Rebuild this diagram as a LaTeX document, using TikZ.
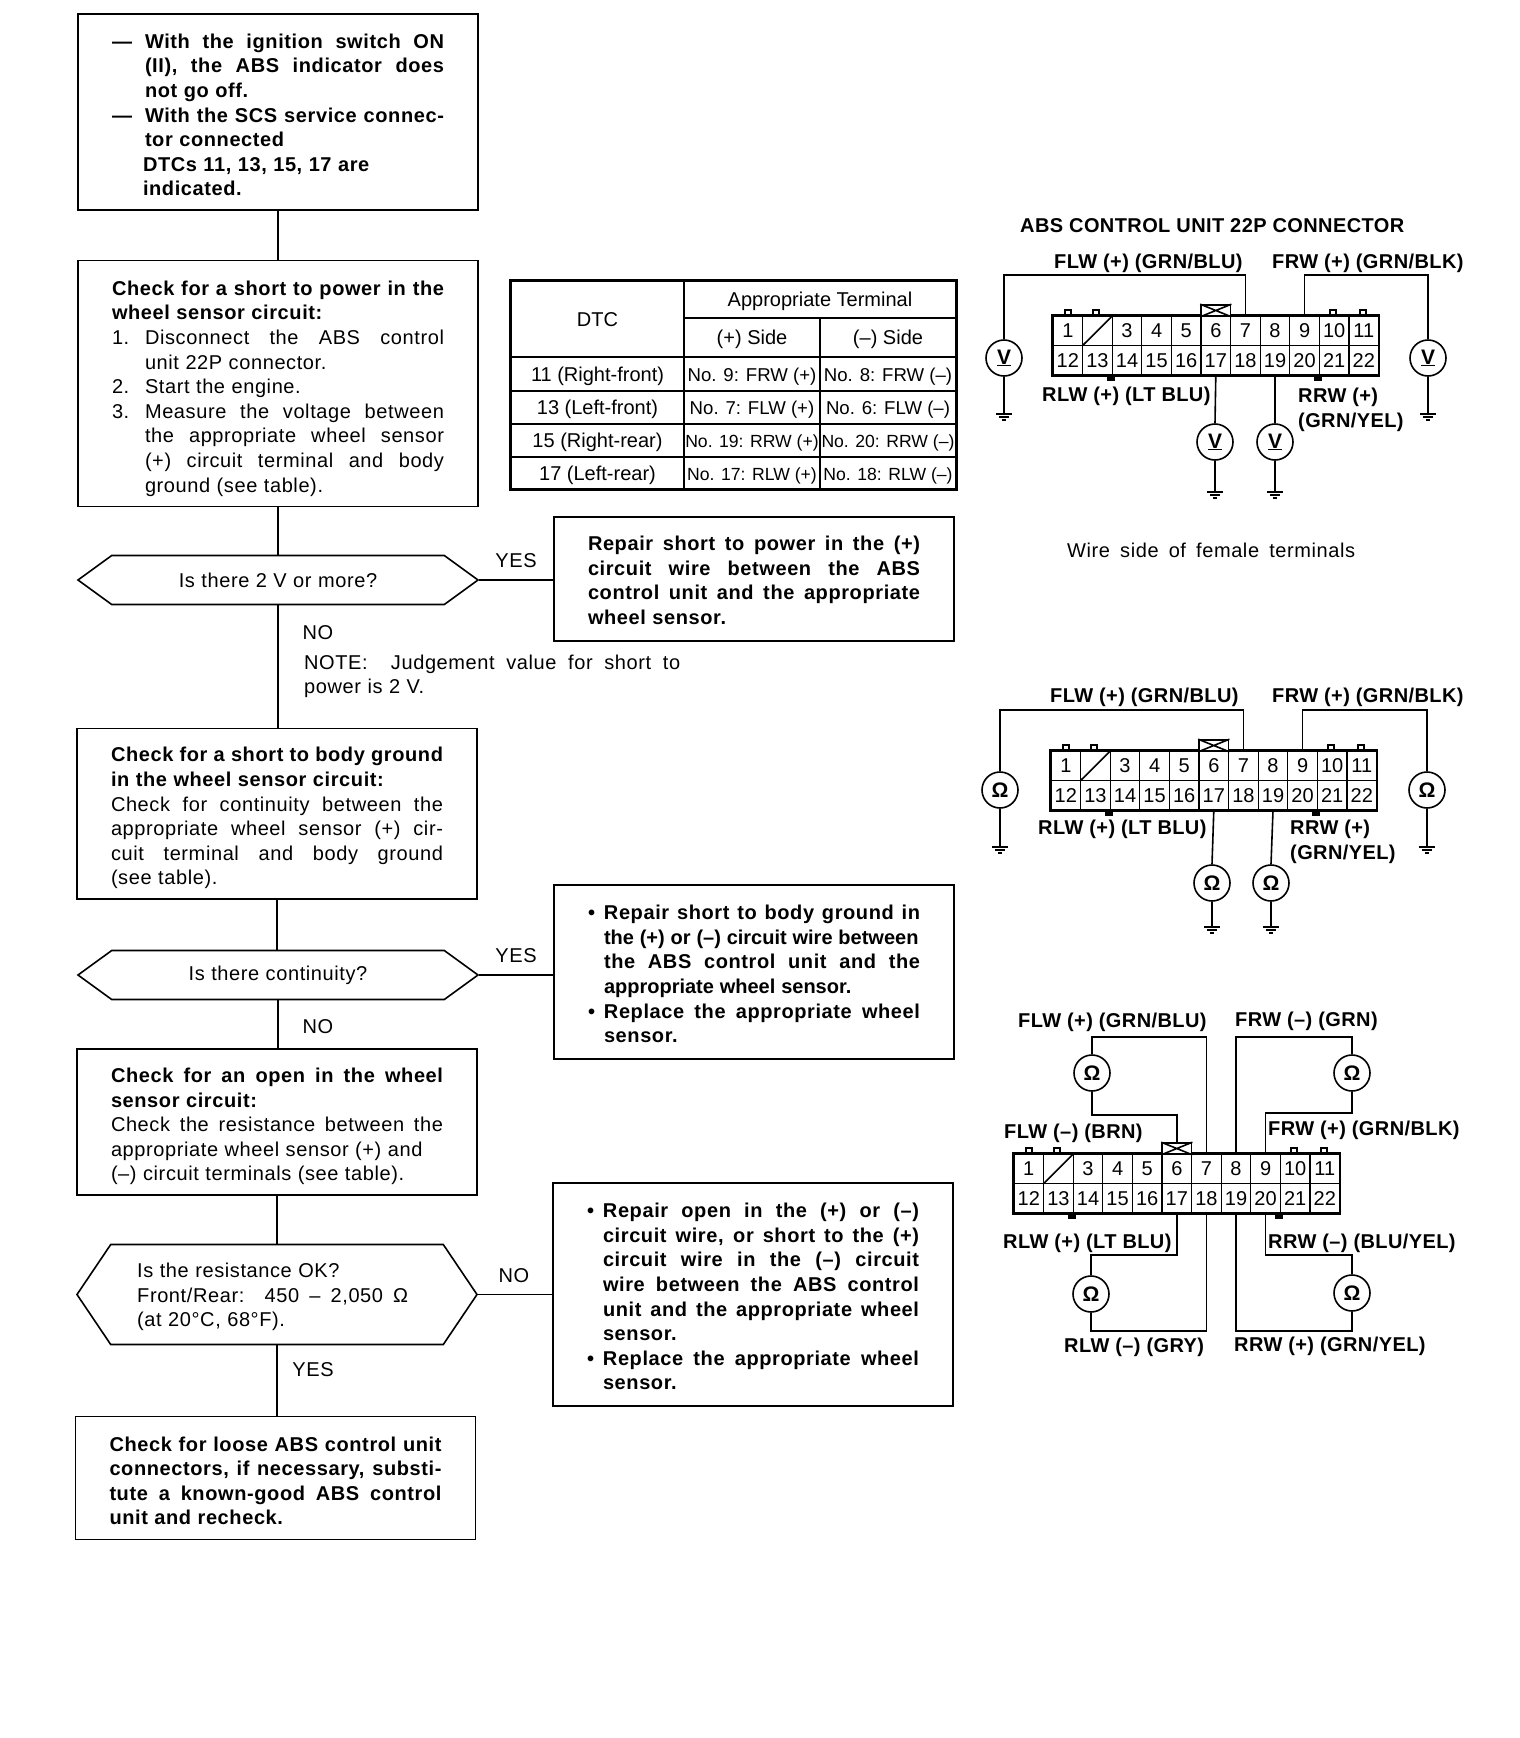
\documentclass[tikz,border=0pt]{standalone}
\usepackage{fontspec}
\setmainfont[WordSpace=1.05,LetterSpace=3]{Liberation Sans}
\newfontfamily\plainfont{Liberation Sans}
\newfontfamily\lblfamily[LetterSpace=2]{Liberation Sans Bold}
\usetikzlibrary{arrows.meta,positioning,shapes.symbols,calc}
\newcommand{\flowfont}{\fontsize{20}{24.6}\selectfont\sloppy}
\newcommand{\lblfont}{\lblfamily\fontsize{20}{25}\selectfont}
\newcommand{\hangitem}[2]{\par\hangindent=#1\hangafter=1\noindent\makebox[#1][l]{#2}}
\newcommand{\toppad}[1]{\rule{0pt}{#1}}
\newcommand{\botpad}[1]{\par\nointerlineskip\vbox to #1{}}
\newcommand{\tightline}[1]{\mbox{\addfontfeature{LetterSpace=0}#1}}
\tikzset{
  conn/.pic={
    \foreach \n in {1,2,...,11} \node[pincell] (\n) at ({14.8+29.6*(\n-1)},14.75) {\ifnum\n=2 \else\n\fi};
    \foreach \n in {12,13,...,22} \node[pincell] (\n) at ({14.8+29.6*(\n-12)},44.25) {\n};
    \draw[wire] (2.south west) -- (2.north east);
    \draw[line width=2.2pt] (1.north west) rectangle (22.south east);
    \foreach \t in {15,43,280,310} \draw[wire] (\t-3,0) -- (\t-3,-6) -- (\t+3,-6) -- (\t+3,0);
    \foreach \t in {58,265} \draw[wire,fill=black] (\t-3,59) rectangle (\t+3,64);
    \node[xbox] (x) at (162.8,-5.5) {};
    \draw[wire] (x.north west) -- (x.south east) (x.north east) -- (x.south west);
  },
  gnd/.pic={
    \draw[wire] (-8,0) -- (8,0) (-5,3) -- (5,3) (-2,6) -- (2,6);
  }
}
\begin{document}
\begin{tikzpicture}[x=1pt, y=-1pt,
  wire/.style={line width=1.6pt},
  flowbox/.style={draw, line width=1.6pt, text width=332pt, inner xsep=34pt, inner ysep=0pt, align=justify, font=\flowfont},
  quest/.style={draw, line width=1.6pt, shape=signal, signal to=east and west, minimum width=400pt, inner sep=0pt, font=\flowfont},
  lbl/.style={inner sep=0pt, anchor=west, font=\lblfont},
  tag/.style={inner sep=0pt, font=\fontsize{20}{24.6}\selectfont},
  pincell/.style={draw, line width=1.2pt, minimum width=29.6pt, minimum height=29.5pt, inner sep=0pt, font=\plainfont\fontsize{20}{24}\selectfont},
  xbox/.style={draw, line width=1.6pt, fill=white, minimum width=29.6pt, minimum height=11pt, inner sep=0pt},
  meter/.style={draw, line width=1.6pt, circle, minimum size=36pt, inner sep=0pt, font=\plainfont\bfseries\fontsize{21}{24}\selectfont},
  tcell/.style={draw, line width=1.2pt, inner sep=0pt, text height=14.2pt, text depth=0pt, font=\plainfont\fontsize{20}{24}\selectfont}
]
  \useasboundingbox (0,0) rectangle (1520,1738);

  %% Flow chart, left column
  \node[flowbox, minimum height=196pt] (start) at (278,112) {\bfseries
    \hangitem{33pt}{---}With the ignition switch ON\linebreak (II), the ABS indicator does\linebreak not go off.
    \hangitem{33pt}{---}With the SCS service connec-\linebreak tor connected
    \hangitem{31pt}{}DTCs 11, 13, 15, 17 are\newline indicated.\botpad{4.4pt}};
  \node[flowbox, minimum height=246pt] (short) at (278,383.5) {\toppad{24.5pt}\textbf{Check for a short to power in the\linebreak wheel sensor circuit:}
    \hangitem{33pt}{1.}Disconnect the ABS control\linebreak unit 22P connector.
    \hangitem{33pt}{2.}Start the engine.
    \hangitem{33pt}{3.}Measure the voltage between\linebreak the appropriate wheel sensor\linebreak (+) circuit terminal and body\linebreak ground (see table).\par};
  \node[quest, minimum height=49pt, signal pointer angle=72] (volt) at (278,580) {Is there 2 V or more?};
  \node[flowbox, minimum height=170.7pt] (body) at (277,813.7) {\toppad{23.5pt}\textbf{Check for a short to body ground\newline in the wheel sensor circuit:}\par
    Check for continuity between the\linebreak appropriate wheel sensor (+) cir-\linebreak cuit terminal and body ground\linebreak (see table).\par};
  \node[quest, minimum height=49pt, signal pointer angle=72] (cont) at (278,975) {\raisebox{-2pt}{Is there continuity?}};
  \node[flowbox, minimum height=146.3pt] (open) at (277,1122) {\toppad{23.5pt}\textbf{Check for an open in the wheel\linebreak sensor circuit:}\par
    Check the resistance between the\linebreak appropriate wheel sensor (+) and\newline (--) circuit terminals (see table).\par};
  \node[quest, minimum height=100pt, signal pointer angle=112] (ohm) at (277,1294.5) {};
  \node[tag, anchor=west, align=left] (ohmtext) at (137,1297) {Is the resistance OK?\\\makebox[271pt][s]{Front/Rear:\ \ 450 -- 2,050 Ω}\\(at 20°C, 68°F).};
  \node[flowbox, minimum height=123pt] (loose) at (275.5,1478) {\toppad{20pt}\bfseries Check for loose ABS control unit\linebreak connectors, if necessary, substi-\linebreak tute a known-good ABS control\linebreak unit and recheck.\par};

  %% Repair boxes
  \node[flowbox, minimum height=124pt] (fixa) at (754,578.8) {\toppad{17.5pt}\bfseries Repair short to power in the (+)\linebreak circuit wire between the ABS\linebreak control unit and the appropriate\linebreak wheel sensor.\par};
  \node[flowbox, minimum height=174pt] (fixb) at (754,971.7) {\bfseries
    \hangitem{16pt}{•}Repair short to body ground in\linebreak \tightline{the (+) or (--) circuit wire between}\linebreak the ABS control unit and the\linebreak \tightline{appropriate wheel sensor.}
    \hangitem{16pt}{•}Replace the appropriate wheel\linebreak sensor.\botpad{5.6pt}};
  \node[flowbox, minimum height=222.8pt] (fixc) at (753,1294.4) {\bfseries
    \hangitem{16pt}{•}Repair open in the (+) or (--)\linebreak circuit wire, or short to the (+)\linebreak circuit wire in the (--) circuit\linebreak wire between the ABS control\linebreak unit and the appropriate wheel\linebreak sensor.
    \hangitem{16pt}{•}Replace the appropriate wheel\linebreak sensor.\botpad{5.5pt}};

  %% Flow connectors and their tags
  \draw[wire] (start.south) -- (start.south |- short.north);
  \draw[wire] (short.south) -- (short.south |- volt.north);
  \draw[wire] (volt.south) -- (volt.south |- body.north);
  \draw[wire] (body.south) -- (body.south |- cont.north);
  \draw[wire] (cont.south) -- (cont.south |- open.north);
  \draw[wire] (open.south) -- (open.south |- ohm.north);
  \draw[wire] (ohm.south) -- (ohm.south |- loose.north);
  \draw[wire] (volt.east) -- (volt.east -| fixa.west);
  \draw[wire] (cont.east) -- (cont.east -| fixb.west);
  \draw[wire] (ohm.east) -- (ohm.east -| fixc.west);
  \node[tag] (yesa) at (516,561) {YES};
  \node[tag] (noa) at (318,633) {NO};
  \node[tag, anchor=north west, align=left] (note) at (304,654.4) {\makebox[376pt][s]{NOTE:\ \ Judgement value for short to}\\power is 2 V.};
  \node[tag] (yesb) at (516,956) {YES};
  \node[tag] (nob) at (318,1027) {NO};
  \node[tag] (noc) at (514,1276) {NO};
  \node[tag] (yesc) at (313,1370) {YES};

  %% Terminal table
  \node[tcell, minimum width=173pt, minimum height=76pt] (dtc) at (597.5,319) {DTC};
  \node[tcell, minimum width=272pt, minimum height=37pt] (term) at (820,299.5) {Appropriate Terminal};
  \node[tcell, minimum width=136pt, minimum height=39pt] (plus) at (752,337.5) {(+) Side};
  \node[tcell, minimum width=136pt, minimum height=39pt] (minus) at (888,337.5) {(–) Side};
  \foreach \row/\yy/\hh/\fs/\dd/\pp/\mm in {
      a/374/34/18.6/11 (Right-front)/No. 9: FRW (+)/No. 8: FRW (–),
      b/407.5/33/18.6/13 (Left-front)/No. 7: FLW (+)/No. 6: FLW (–),
      c/440.5/33/17.6/15 (Right-rear)/No. 19: RRW (+)/No. 20: RRW (–),
      d/473/32/17.6/17 (Left-rear)/No. 17: RLW (+)/No. 18: RLW (–)} {
    \node[tcell, minimum width=173pt, minimum height=\hh pt] (dtc\row) at (597.5,\yy) {\dd};
    \node[tcell, minimum width=136pt, minimum height=\hh pt, font=\plainfont\fontsize{\fs}{20}\selectfont] (plus\row) at (752,\yy) {\pp};
    \node[tcell, minimum width=136pt, minimum height=\hh pt, font=\plainfont\fontsize{\fs}{20}\selectfont] (minus\row) at (888,\yy) {\mm};
  }
  \draw[line width=2.2pt] (dtc.north west) rectangle (minusd.south east);

  %% Voltage check, upper connector
  \node[lbl] (titlea) at (1020,226) {ABS CONTROL UNIT 22P CONNECTOR};
  \pic (a) at (1053,316) {conn};
  \node[meter] (vfl) at (1004,358) {\underline{V}};
  \node[meter] (vfr) at (1428,358) {\underline{V}};
  \node[meter] (vrl) at (1215,442) {\underline{V}};
  \node[meter] (vrr) at (1275,442) {\underline{V}};
  \coordinate (gfl) at (1004,414);
  \coordinate (gfr) at (1428,414);
  \coordinate (grl) at (1215,492);
  \coordinate (grr) at (1275,492);
  \draw[wire] (vfl.north) -- (vfl.north |- 0,275) -| (a7.north);
  \draw[wire] (a9.north) -- (a9.north |- 0,275) -| (vfr.north);
  \draw[wire] (a17.south) -- (vrl.north);
  \draw[wire] (a19.south) -- (vrr.north);
  \foreach \m/\g in {vfl/gfl,vfr/gfr,vrl/grl,vrr/grr} {
    \draw[wire] (\m.south) -- (\g);
    \pic at (\g) {gnd};
  }
  \node[lbl] (flwa) at (1054,263) {FLW (+) (GRN/BLU)};
  \node[lbl] (frwa) at (1272,263) {FRW (+) (GRN/BLK)};
  \node[lbl] (rlwa) at (1042,396) {RLW (+) (LT BLU)};
  \node[lbl, align=left, anchor=north west] (rrwa) at (1298,387.5) {RRW (+)\\(GRN/YEL)};
  \node[tag, anchor=west] (wireside) at (1067,550) {\makebox[288pt][s]{Wire side of female terminals}};

  %% Continuity check, middle connector
  \pic (b) at (1051,751) {conn};
  \node[meter] (mfl) at (1000,790) {Ω};
  \node[meter] (mfr) at (1427,790) {Ω};
  \node[meter] (mrl) at (1212,883) {Ω};
  \node[meter] (mrr) at (1271,883) {Ω};
  \coordinate (hfl) at (1000,847);
  \coordinate (hfr) at (1427,847);
  \coordinate (hrl) at (1212,927);
  \coordinate (hrr) at (1271,927);
  \draw[wire] (mfl.north) -- (mfl.north |- 0,710) -| (b7.north);
  \draw[wire] (b9.north) -- (b9.north |- 0,710) -| (mfr.north);
  \draw[wire] (b17.south) -- (mrl.north);
  \draw[wire] (b19.south) -- (mrr.north);
  \foreach \m/\g in {mfl/hfl,mfr/hfr,mrl/hrl,mrr/hrr} {
    \draw[wire] (\m.south) -- (\g);
    \pic at (\g) {gnd};
  }
  \node[lbl] (flwb) at (1050,697) {FLW (+) (GRN/BLU)};
  \node[lbl] (frwb) at (1272,697) {FRW (+) (GRN/BLK)};
  \node[lbl] (rlwb) at (1038,829) {RLW (+) (LT BLU)};
  \node[lbl, align=left, anchor=north west] (rrwb) at (1290,819.4) {RRW (+)\\(GRN/YEL)};

  %% Resistance check, lower connector
  \pic (c) at (1014,1154) {conn};
  \node[meter] (ofl) at (1092,1073) {Ω};
  \node[meter] (ofr) at (1352,1073) {Ω};
  \node[meter] (orl) at (1091,1294) {Ω};
  \node[meter] (orr) at (1352,1293) {Ω};
  \draw[wire] (ofl.north) -- (ofl.north |- 0,1037) -| (c7.north);
  \draw[wire] (ofl.south) -- (ofl.south |- 0,1115) -| (cx.north);
  \draw[wire] (c8.north) -- (c8.north |- 0,1037) -| (ofr.north);
  \draw[wire] (ofr.south) -- (ofr.south |- 0,1113) -| (c9.north);
  \draw[wire] (c17.south) -- (c17.south |- 0,1255) -| (orl.north);
  \draw[wire] (orl.south) -- (orl.south |- 0,1331) -| (c18.south);
  \draw[wire] (c20.south) -- (c20.south |- 0,1255) -| (orr.north);
  \draw[wire] (orr.south) -- (orr.south |- 0,1331) -| (c19.south);
  \node[lbl] (flwc) at (1018,1022) {FLW (+) (GRN/BLU)};
  \node[lbl] (frwm) at (1235,1021) {FRW (–) (GRN)};
  \node[lbl] (flwm) at (1004,1133) {FLW (–) (BRN)};
  \node[lbl] (frwc) at (1268,1130) {FRW (+) (GRN/BLK)};
  \node[lbl] (rlwc) at (1003,1243) {RLW (+) (LT BLU)};
  \node[lbl] (rrwm) at (1268,1243) {RRW (–) (BLU/YEL)};
  \node[lbl] (rlwm) at (1064,1347) {RLW (–) (GRY)};
  \node[lbl] (rrwc) at (1234,1346) {RRW (+) (GRN/YEL)};
\end{tikzpicture}
\end{document}
